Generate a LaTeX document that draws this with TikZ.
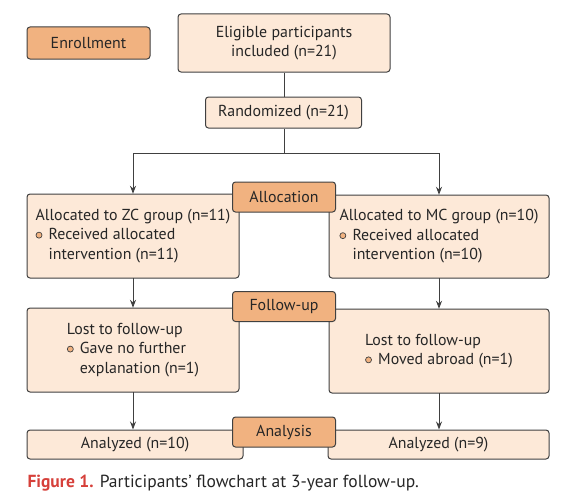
\documentclass[tikz,border=0pt]{standalone}
\usepackage{fontspec}
\setmainfont{PT Sans}
\usetikzlibrary{positioning,arrows.meta}
\definecolor{boxFill}{RGB}{253,233,216}
\definecolor{tagFill}{RGB}{241,178,128}
\definecolor{edgeGray}{RGB}{64,64,64}
\definecolor{capRed}{RGB}{214,64,58}
\newcommand{\flowFont}{\fontsize{15.9}{19.5}\selectfont}
\newcommand{\bul}{\makebox[13pt][l]{\tikz[baseline=-0.6ex]\draw[edgeGray,fill=tagFill,line width=0.7pt] (0,0) circle (3pt);}}
\newcommand{\bulSkip}{\hspace*{13pt}}

\begin{document}
\begin{tikzpicture}[x=1pt, y=-1pt, line width=1pt,
	every node/.style={font=\flowFont, text=black!85},
	box/.style={draw=edgeGray, fill=boxFill, rounded corners=3pt, inner sep=0pt, align=center},
	tag/.style={box, fill=tagFill, minimum width=103pt, minimum height=30pt},
	arr/.style={draw=edgeGray, -{Stealth[length=8pt,width=6pt]}}]
	\useasboundingbox (0,0) rectangle (561,503);
	% enrollment
	\node[tag, minimum width=123pt, minimum height=32pt] (enroll) at (88.5,43) {Enrollment};
	\node[box, minimum width=212pt, minimum height=58pt] (eligible) at (284,43) {Eligible participants\\included (n=21)};
	\node[box, minimum width=156pt, minimum height=31pt] (randomized) at (283.5,112.5) {Randomized (n=21)};
	\coordinate (split) at (284,153);
	% allocation
	\node[box, align=left, minimum width=212pt, minimum height=84pt] (zcGroup) at (133,236) {Allocated to ZC group (n=11)\\\bul Received allocated\\\bulSkip intervention (n=11)};
	\node[box, align=left, minimum width=220pt, minimum height=83pt] (mcGroup) at (439,236.5) {Allocated to MC group (n=10)\\\bul Received allocated\\\bulSkip intervention (n=10)};
	% follow-up
	\node[box, align=left, minimum width=212pt, minimum height=84pt] (lostZc) at (133,350) {Lost to follow-up\\\bul Gave no further\\\bulSkip explanation (n=1)};
	\node[box, align=left, minimum width=220pt, minimum height=84pt] (lostMc) at (439,351) {Lost to follow-up\\\bul Moved abroad (n=1)};
	% analysis
	\node[box, minimum width=216pt, minimum height=29pt] (anZc) at (135,444.5) {Analyzed (n=10)};
	\node[box, minimum width=221pt, minimum height=29pt] (anMc) at (438.5,444.5) {Analyzed (n=9)};
	% connectors
	\draw[edgeGray] (eligible) -- (randomized.north -| eligible.south);
	\draw[edgeGray] (randomized.south -| split) -- (split);
	\draw[arr] (split) -| (zcGroup);
	\draw[arr] (split) -| (mcGroup);
	\draw[arr] (zcGroup) -- (lostZc);
	\draw[arr] (mcGroup) -- (lostMc);
	\draw[arr] (lostZc.south) -- (lostZc.south |- anZc.north);
	\draw[arr] (lostMc.south) -- (lostMc.south |- anMc.north);
	% stage tags
	\node[tag] (allocTag) at (284,197) {Allocation};
	\node[tag] (followTag) at (284,306.5) {Follow-up};
	\node[tag] (analysisTag) at (284,432) {Analysis};
	% caption
	\node[anchor=base west, inner sep=0pt, font=\fontsize{17.5}{20}\selectfont] (caption) at (27,487) {\textcolor{capRed}{\textbf{Figure 1.}} Participants’ flowchart at 3-year follow-up.};
\end{tikzpicture}
\end{document}
